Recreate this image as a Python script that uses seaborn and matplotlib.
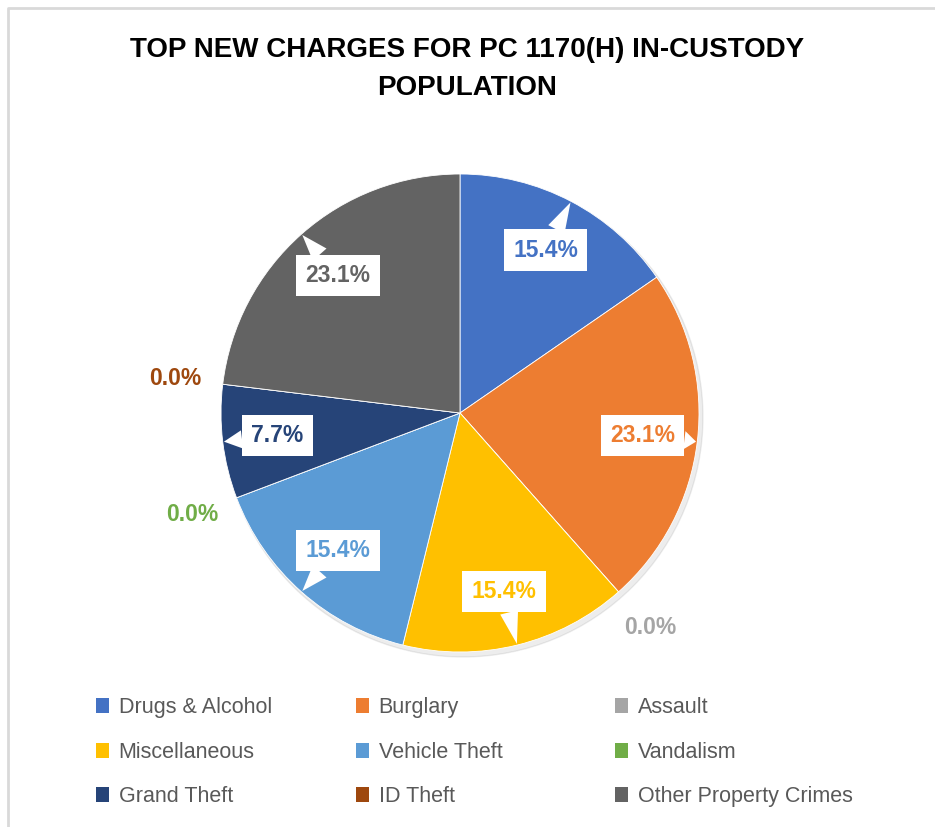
import numpy as np
import matplotlib
matplotlib.use("Agg")
import matplotlib.pyplot as plt
import seaborn as sns
from matplotlib.patches import Patch

sns.set_theme(style="white")
plt.rcParams['font.family'] = ['Liberation Sans', 'DejaVu Sans']

categories = ["Drugs & Alcohol", "Burglary", "Assault", "Miscellaneous", "Vehicle Theft",
              "Vandalism", "Grand Theft", "ID Theft", "Other Property Crimes"]
counts = [2, 3, 0, 2, 2, 0, 1, 0, 3]
colors = ["#4472C4", "#ED7D31", "#A5A5A5", "#FFC000", "#5B9BD5",
          "#70AD47", "#264478", "#9E480E", "#636363"]
title = "TOP NEW CHARGES FOR PC 1170(H) IN-CUSTODY\nPOPULATION"

fig = plt.figure(figsize=(9.35, 8.27), dpi=100)
ax = fig.add_axes([0, 0, 1, 1])

# chart frame (top and left edges visible)
ax.plot([8, 8, 935], [0, 819, 819], color="#D9D9D9", lw=2, zorder=0)

cx, cy, R = 460, 414, 239
pcts = np.array(counts) / sum(counts) * 100

# soft shadow
shadow = plt.Circle((cx + 3, cy - 4), R + 1, color="#000000", alpha=0.07, zorder=1)
ax.add_patch(shadow)

wedges, _ = ax.pie(counts, colors=colors, startangle=90, counterclock=False,
                   center=(cx, cy), radius=R, frame=True,
                   wedgeprops=dict(edgecolor="white", linewidth=0.6))
for w in wedges:
    w.set_zorder(2)
ax.set_xlim(0, 935)
ax.set_ylim(0, 827)
ax.set_aspect("equal")
ax.axis("off")

for w, p, c in zip(wedges, pcts, colors):
    mid = np.deg2rad((w.theta1 + w.theta2) / 2)
    lab = f"{p:.1f}%"
    if p == 0:
        r = 1.2 * R
        ax.text(cx + r * np.cos(mid), cy + r * np.sin(mid), lab, color=c,
                fontsize=16.5, fontweight="bold", ha="center", va="center", zorder=4)
    else:
        r = 0.77 * R
        ax.annotate(lab, xy=(cx + R * 0.995 * np.cos(mid), cy + R * 0.995 * np.sin(mid)),
                    xytext=(cx + r * np.cos(mid), cy + r * np.sin(mid)),
                    color=c, fontsize=16.5, fontweight="bold", ha="center", va="center",
                    bbox=dict(boxstyle="square,pad=0.4", fc="white", ec="none"),
                    arrowprops=dict(arrowstyle="wedge,tail_width=0.8,shrink_factor=0.5",
                                    fc="white", ec="none", shrinkA=0, shrinkB=0),
                    zorder=4)

fig.text(0.5, 1 - 69 / 827, title, ha="center", va="center", fontsize=20,
         fontweight="bold", color="black", linespacing=1.6)

# legend laid out row by row, one legend per column
col_x = [96 / 935, 356 / 935, 615 / 935]
for j in range(3):
    idx = [j, j + 3, j + 6]
    handles = [Patch(facecolor=colors[i], edgecolor="none") for i in idx]
    leg = fig.legend(handles, [categories[i] for i in idx], loc="upper left",
                     bbox_to_anchor=(col_x[j], 1 - 697 / 827), frameon=False,
                     fontsize=15.5, labelcolor="#595959", handlelength=0.6,
                     handleheight=0.7, handletextpad=0.45, labelspacing=1.1,
                     borderaxespad=0, borderpad=0)

fig.savefig("out.png", dpi=100)
